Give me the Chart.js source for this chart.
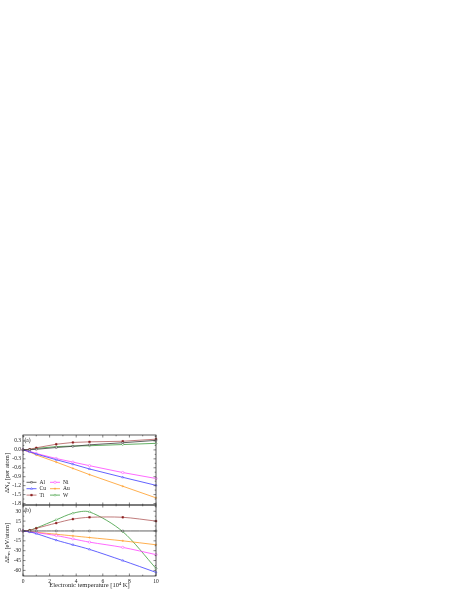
<!DOCTYPE html>
<html><head><meta charset="utf-8">
<script src="https://cdn.jsdelivr.net/npm/chart.js@4.4.1/dist/chart.umd.min.js"></script>
<style>html,body{margin:0;padding:0;background:#fff;} .c{position:absolute;left:0;top:0;}</style>
</head><body>
<canvas id="a" class="c" width="458" height="592"></canvas>
<canvas id="b" class="c" width="458" height="592"></canvas>
<script>
// ---- data ----
const X = [0, 0.5, 1, 2.5, 3.75, 5, 7.5, 10];
const NAMES = ['Al', 'Cu', 'Ti', 'Ni', 'Au', 'W'];
// panel (a): change in d occupation [per atom]
const DN_AL = [0, 0.005, 0.02, 0.08, 0.12, 0.17, 0.24, 0.32];
const DN_CU = [0, -0.06, -0.14, -0.33, -0.48, -0.64, -0.92, -1.19];
const DN_TI = [0, 0.02, 0.07, 0.19, 0.25, 0.27, 0.29, 0.36];
const DN_NI = [0, -0.05, -0.12, -0.29, -0.41, -0.53, -0.76, -0.96];
const DN_AU = [0, -0.07, -0.17, -0.41, -0.62, -0.83, -1.22, -1.61];
const DN_W  = [0, 0.01, 0.05, 0.11, 0.13, 0.14, 0.18, 0.22];
// panel (b): energy change
const DE_AL = [0, 0, 0, 0, 0, 0, 0, 0];
const DE_CU = [0, -1.5, -4, -14, -21, -28, -45, -63];
const DE_TI = [0, 1, 4, 12, 18, 20.8, 20.8, 15];
const DE_NI = [0, -1, -2.5, -7, -12, -17, -25, -36];
const DE_AU = [0, -1, -2, -5, -7.5, -10, -15, -21];
const DE_W  = [0, 1, 4.5, 17, 27, 29, -1, -57];
// ticks
const X_TICKS = [0, 2, 4, 6, 8, 10];
const X_MINOR = [1, 3, 5, 7, 9];
const YA_TICKS = [-1.8, -1.5, -1.2, -0.9, -0.6, -0.3, 0, 0.3];
const YA_MINOR = [-1.65, -1.35, -1.05, -0.75, -0.45, -0.15, 0.15, 0.45];
const YB_TICKS = [-60, -45, -30, -15, 0, 15, 30];
const YB_MINOR = [-67.5, -52.5, -37.5, -22.5, -7.5, 7.5, 22.5, 37.5];

const FONT = '"Liberation Serif", "DejaVu Serif", serif';
Chart.defaults.font.family = FONT;
Chart.defaults.color = '#222';

const STY = {
  Al: {line: '#3a3a3a', pt: '#3a3a3a', fill: '#ffffff', shape: 'rect'},
  Cu: {line: '#3b3bff', pt: '#3b3bff', fill: '#ffffff', shape: 'triangle'},
  Ti: {line: '#b05a5a', pt: '#8a1c1c', fill: '#8a1c1c', shape: 'rect'},
  Ni: {line: '#ff44ff', pt: '#ff44ff', fill: '#ffffff', shape: 'circle'},
  Au: {line: '#ff9a22', pt: '#ff9a22', fill: '#ffffff', shape: 'cross'},
  W:  {line: '#3c9c3c', pt: '#3c9c3c', fill: '#ffffff', shape: 'rectRot'}
};

function mk(name, vals, tension) {
  const s = STY[name];
  return {
    label: name,
    data: X.map((x, i) => ({x: x, y: vals[i]})),
    borderColor: s.line, borderWidth: 0.8,
    pointStyle: s.shape, pointRadius: 1.15, pointBorderWidth: 0.5,
    pointBorderColor: s.pt, pointBackgroundColor: s.fill,
    tension: tension, clip: 3, fill: false
  };
}

function drawRich(ctx, parts, cx, cy) {
  ctx.save();
  ctx.translate(cx, cy);
  ctx.rotate(-Math.PI / 2);
  let w = 0;
  parts.forEach(p => { ctx.font = p.size + 'px ' + FONT; w += ctx.measureText(p.t).width; });
  let xx = -w / 2;
  ctx.textBaseline = 'middle';
  ctx.textAlign = 'left';
  ctx.fillStyle = '#222';
  parts.forEach(p => {
    ctx.font = p.size + 'px ' + FONT;
    ctx.fillText(p.t, xx, p.dy || 0);
    xx += ctx.measureText(p.t).width;
  });
  ctx.restore();
}

const framePlugin = {
  id: 'frame',
  afterDatasetsDraw(chart, args, o) {
    const {ctx, chartArea: a, scales: {x, y}} = chart;
    ctx.save();
    ctx.strokeStyle = '#333';
    ctx.lineWidth = 0.8;
    ctx.strokeRect(a.left, a.top, a.right - a.left, a.bottom - a.top);
    ctx.lineWidth = 0.6;
    ctx.beginPath();
    const tk = (vals, len, isX) => vals.forEach(v => {
      if (isX) {
        const p = x.getPixelForValue(v);
        ctx.moveTo(p, a.bottom); ctx.lineTo(p, a.bottom - len);
        ctx.moveTo(p, a.top); ctx.lineTo(p, a.top + len);
      } else {
        const p = y.getPixelForValue(v);
        if (p < a.top - 0.1 || p > a.bottom + 0.1) return;
        ctx.moveTo(a.left, p); ctx.lineTo(a.left + len, p);
        ctx.moveTo(a.right, p); ctx.lineTo(a.right - len, p);
      }
    });
    tk(o.xMajor, 2.5, true); tk(o.xMinor, 1.3, true);
    tk(o.yMajor, 2.5, false); tk(o.yMinor, 1.3, false);
    ctx.stroke();
    ctx.fillStyle = '#222';
    ctx.font = '5.5px ' + FONT;
    ctx.textBaseline = 'middle';
    ctx.textAlign = 'left';
    ctx.fillText(o.label, a.left + 1.5, a.top + 5.5);
    drawRich(ctx, o.ytitle, 7, o.ytitleY);
    if (o.legend) {
      chart.data.datasets.forEach((ds, i) => {
        const col = Math.floor(i / 3), row = i % 3;
        const x0 = 26.5 + col * 23.5, yy = 482.3 + row * 6.4;
        ctx.strokeStyle = ds.borderColor; ctx.lineWidth = 0.8;
        ctx.beginPath(); ctx.moveTo(x0, yy); ctx.lineTo(x0 + 10, yy); ctx.stroke();
        ctx.strokeStyle = ds.pointBorderColor; ctx.fillStyle = ds.pointBackgroundColor;
        ctx.lineWidth = 0.5;
        Chart.helpers.drawPoint(ctx, {pointStyle: ds.pointStyle, radius: 1.15, borderWidth: 0.5, rotation: 0}, x0 + 5, yy);
        ctx.fillStyle = '#222';
        ctx.font = '5.5px ' + FONT;
        ctx.textBaseline = 'middle';
        ctx.fillText(ds.label, x0 + 13, yy);
      });
    }
    ctx.restore();
  }
};

function yAxis(min, max, ticksArr, fmt) {
  return {
    type: 'linear', min: min, max: max,
    grid: {display: false, drawTicks: false}, border: {display: false},
    afterFit: s => { s.width = 23; },
    afterBuildTicks: s => { s.ticks = ticksArr.map(v => ({value: v})); },
    ticks: {padding: 2, font: {size: 5.5}, color: '#222', callback: fmt}
  };
}

new Chart(document.getElementById('a'), {
  type: 'line',
  data: {datasets: [mk('Al', DN_AL, 0), mk('Cu', DN_CU, 0), mk('Ti', DN_TI, 0),
                    mk('Ni', DN_NI, 0), mk('Au', DN_AU, 0), mk('W', DN_W, 0)]},
  options: {
    responsive: false, animation: false,
    layout: {padding: {left: 0, right: 302, top: 435, bottom: 87}},
    plugins: {legend: {display: false}, tooltip: {enabled: false},
      frame: {label: '(a)', xMajor: X_TICKS, xMinor: X_MINOR, yMajor: YA_TICKS, yMinor: YA_MINOR,
        ytitle: [{t: 'ΔN', size: 6.5}, {t: 'd', size: 4.8, dy: 1.6}, {t: ' [per atom]', size: 6.5}],
        ytitleY: 473, legend: true}},
    scales: {
      x: {type: 'linear', min: 0, max: 10, display: false},
      y: yAxis(-1.85, 0.5, YA_TICKS, v => v.toFixed(1))
    }
  },
  plugins: [framePlugin]
});

new Chart(document.getElementById('b'), {
  type: 'line',
  data: {datasets: [mk('Al', DE_AL, 0.3), mk('Cu', DE_CU, 0.3), mk('Ti', DE_TI, 0.3),
                    mk('Ni', DE_NI, 0.3), mk('Au', DE_AU, 0.3), mk('W', DE_W, 0.3)]},
  options: {
    responsive: false, animation: false,
    layout: {padding: {left: 0, right: 302, top: 505, bottom: 0}},
    plugins: {legend: {display: false}, tooltip: {enabled: false},
      frame: {label: '(b)', xMajor: X_TICKS, xMinor: X_MINOR, yMajor: YB_TICKS, yMinor: YB_MINOR,
        ytitle: [{t: 'ΔE', size: 6.5}, {t: 'm', size: 4.8, dy: 1.6}, {t: ' [eV/atom]', size: 6.5}],
        ytitleY: 543, legend: false}},
    scales: {
      x: {type: 'linear', min: 0, max: 10,
        grid: {display: false, drawTicks: false}, border: {display: false},
        afterFit: s => { s.height = 16; },
        afterBuildTicks: s => { s.ticks = X_TICKS.map(v => ({value: v})); },
        ticks: {padding: 2, font: {size: 5.5}, color: '#222', maxRotation: 0},
        title: {display: true, text: 'Electronic temperature [10⁴ K]', font: {size: 6.5},
          color: '#222', padding: {top: 0, bottom: 2.5}}},
      y: yAxis(-68.5, 39.5, YB_TICKS, v => String(v))
    }
  },
  plugins: [framePlugin]
});
</script>
</body></html>
